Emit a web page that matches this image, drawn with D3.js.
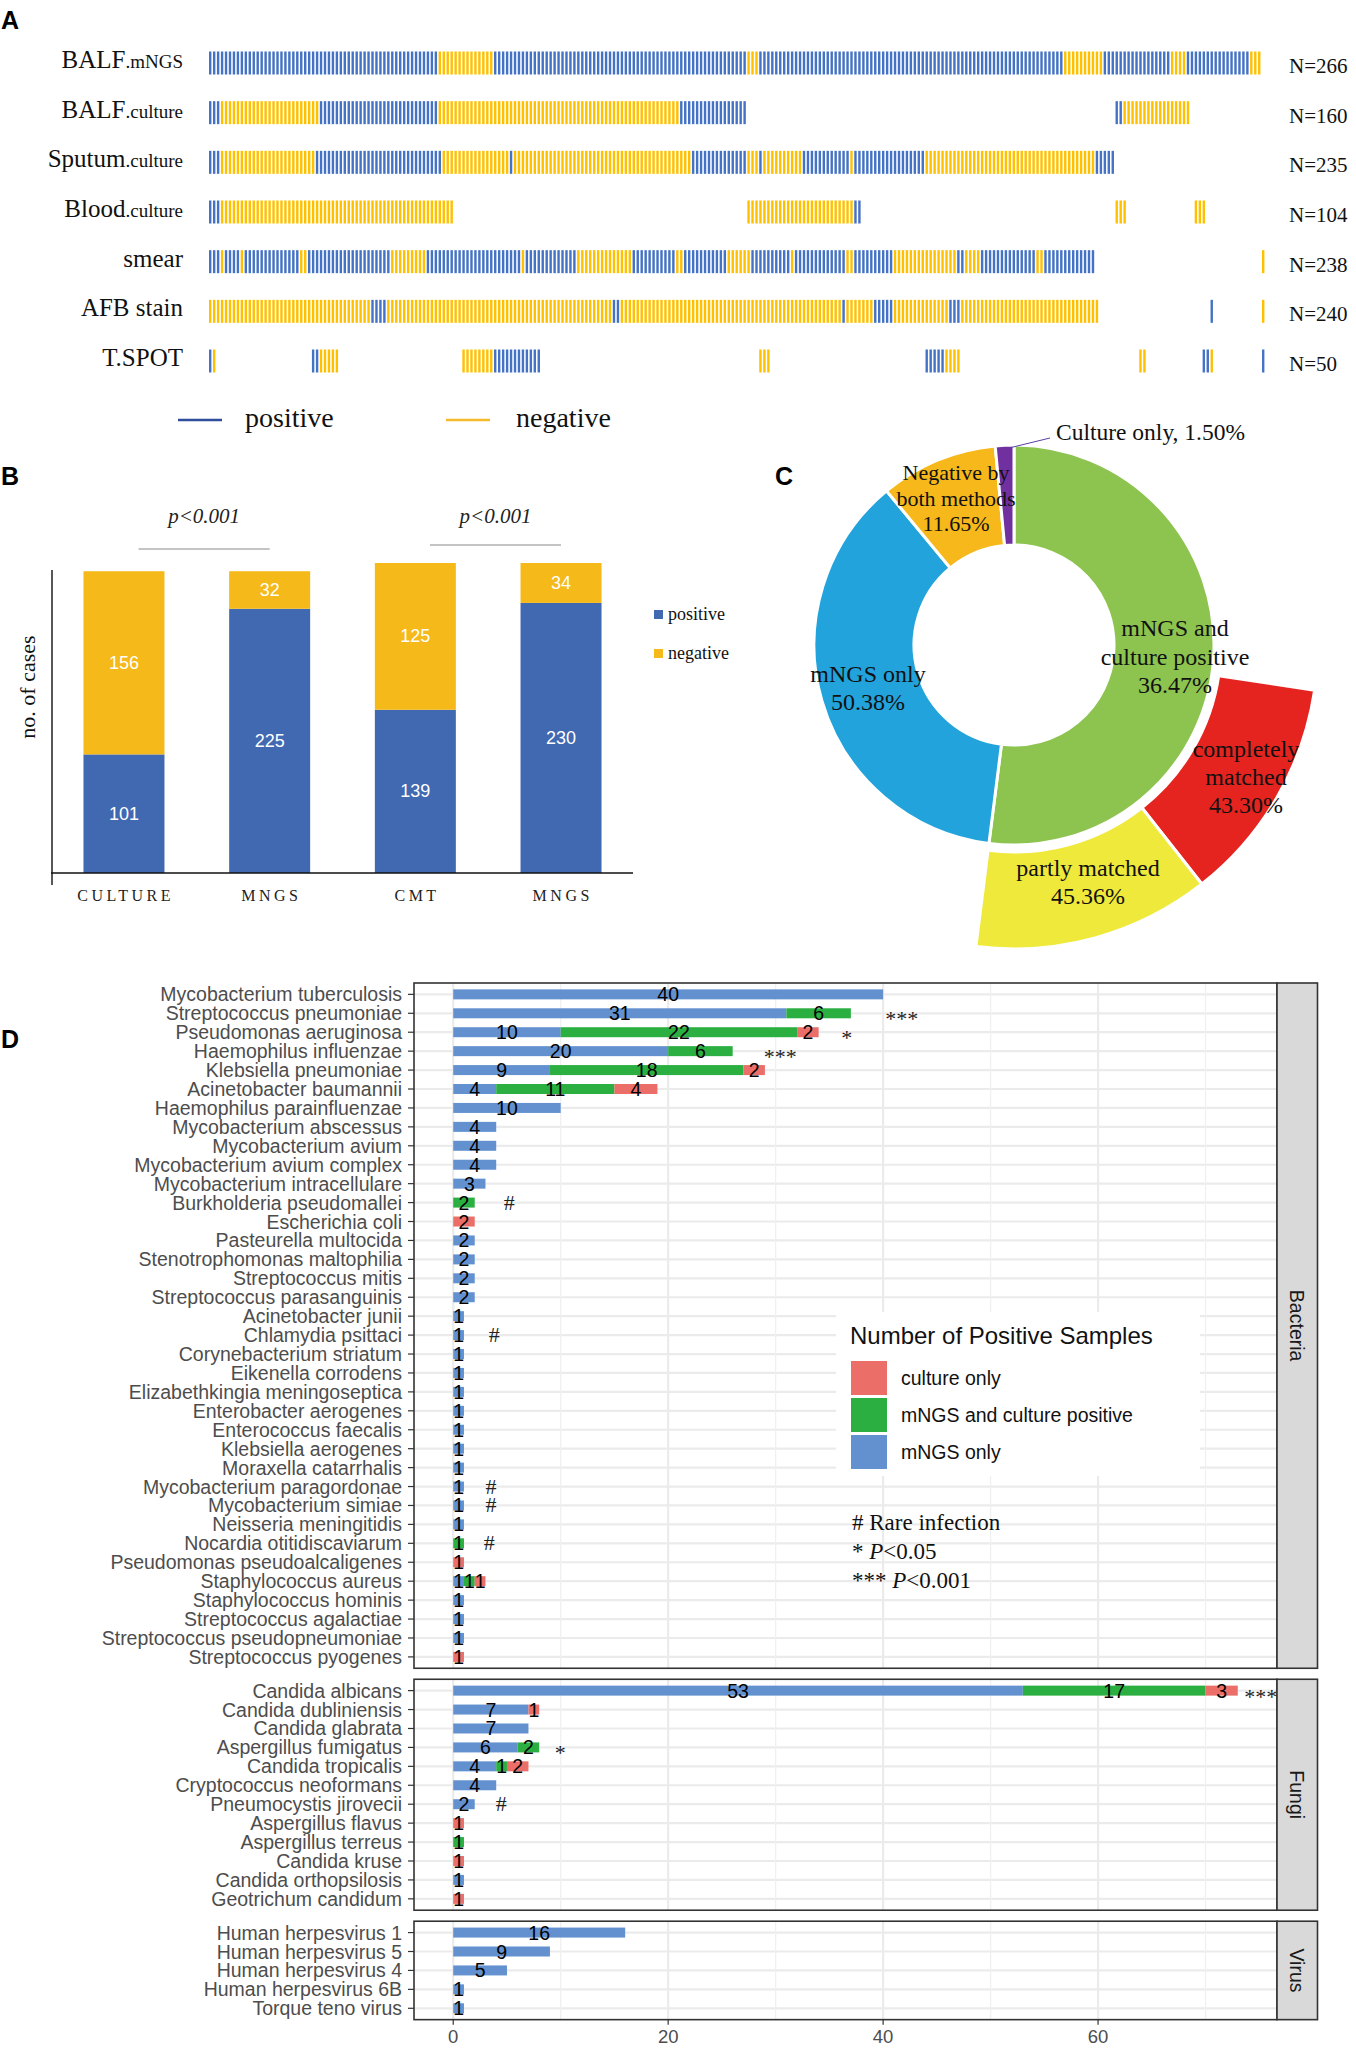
<!DOCTYPE html>
<html>
<head>
<meta charset="utf-8">
<script src="https://cdn.jsdelivr.net/npm/d3@7"></script>
<style>
body { margin: 0; background: #fff; }
svg { display: block; }
</style>
</head>
<body>
<script>
// ---------- panel A : per-sample results, stored as runs [first sample, count, result]
const stripMain = ["BALF", "BALF", "Sputum", "Blood", "smear", "AFB stain", "T.SPOT"];
const stripSub = [".mNGS", ".culture", ".culture", ".culture", "", "", ""];
const stripN = [266, 160, 235, 104, 238, 240, 50];
const balfMngsRuns = [[0,58,"p"],[58,14,"n"],[72,64,"p"],[136,3,"n"],[139,77,"p"],[216,10,"n"],[226,17,"p"],[243,4,"n"],[247,16,"p"],[263,3,"n"]];
const balfCultureRuns = [[0,3,"p"],[3,25,"n"],[28,30,"p"],[58,61,"n"],[119,17,"p"],[229,2,"p"],[231,17,"n"]];
const sputumRuns = [[0,3,"p"],[3,24,"n"],[27,32,"p"],[59,17,"n"],[76,1,"p"],[77,45,"n"],[122,14,"p"],[136,3,"n"],[139,1,"p"],[140,10,"n"],[150,12,"p"],[162,1,"n"],[163,18,"p"],[181,43,"n"],[224,5,"p"]];
const bloodRuns = [[0,3,"p"],[3,59,"n"],[136,27,"n"],[163,2,"p"],[229,3,"n"],[249,3,"n"]];
const smearRuns = [[0,3,"p"],[3,1,"n"],[4,4,"p"],[8,1,"n"],[9,14,"p"],[23,2,"n"],[25,21,"p"],[46,9,"n"],[55,24,"p"],[79,1,"n"],[80,13,"p"],[93,14,"n"],[107,11,"p"],[118,2,"n"],[120,11,"p"],[131,6,"n"],[137,10,"p"],[147,1,"n"],[148,13,"p"],[161,2,"n"],[163,10,"p"],[173,16,"n"],[189,2,"p"],[191,4,"n"],[195,14,"p"],[209,2,"n"],[211,13,"p"],[266,1,"n"]];
const afbRuns = [[0,41,"n"],[41,4,"p"],[45,57,"n"],[102,2,"p"],[104,56,"n"],[160,1,"p"],[161,7,"n"],[168,5,"p"],[173,14,"n"],[187,3,"p"],[190,35,"n"],[253,1,"p"],[266,1,"n"]];
const tspotRuns = [[0,1,"p"],[1,1,"n"],[26,2,"p"],[28,5,"n"],[64,8,"n"],[72,12,"p"],[139,3,"n"],[181,5,"p"],[186,4,"n"],[235,2,"n"],[251,2,"p"],[253,1,"n"],[266,1,"p"]];
const stripRuns = [balfMngsRuns, balfCultureRuns, sputumRuns, bloodRuns, smearRuns, afbRuns, tspotRuns];

// ---------- panel B
const bCategories = ["CULTURE", "MNGS", "CMT", "MNGS"];
const bPositive = [101, 225, 139, 230];
const bNegative = [156, 32, 125, 34];
const bPvalues = ["p<0.001", "p<0.001"];

// ---------- panel C (ring shares as drawn, outer shares of matched cases)
const ringNames = ["mNGS and culture positive", "mNGS only", "Negative by both methods", "Culture only"];
const ringShare = [52, 37, 9.5, 1.5];
const matchNames = ["completely matched", "partly matched"];
const matchShare = [43.30, 45.36];

// ---------- panel D
const bacteria = ["Mycobacterium tuberculosis","Streptococcus pneumoniae","Pseudomonas aeruginosa","Haemophilus influenzae","Klebsiella pneumoniae","Acinetobacter baumannii","Haemophilus parainfluenzae","Mycobacterium abscessus","Mycobacterium avium","Mycobacterium avium complex","Mycobacterium intracellulare","Burkholderia pseudomallei","Escherichia coli","Pasteurella multocida","Stenotrophomonas maltophilia","Streptococcus mitis","Streptococcus parasanguinis","Acinetobacter junii","Chlamydia psittaci","Corynebacterium striatum","Eikenella corrodens","Elizabethkingia meningoseptica","Enterobacter aerogenes","Enterococcus faecalis","Klebsiella aerogenes","Moraxella catarrhalis","Mycobacterium paragordonae","Mycobacterium simiae","Neisseria meningitidis","Nocardia otitidiscaviarum","Pseudomonas pseudoalcaligenes","Staphylococcus aureus","Staphylococcus hominis","Streptococcus agalactiae","Streptococcus pseudopneumoniae","Streptococcus pyogenes"];
const bacMngs    = [40,31,10,20,9,4,10,4,4,4,3,0,0,2,2,2,2,1,1,1,1,1,1,1,1,1,1,1,1,0,0,1,1,1,1,0];
const bacBoth    = [0,6,22,6,18,11,0,0,0,0,0,2,0,0,0,0,0,0,0,0,0,0,0,0,0,0,0,0,0,1,0,1,0,0,0,0];
const bacCulture = [0,0,2,0,2,4,0,0,0,0,0,0,2,0,0,0,0,0,0,0,0,0,0,0,0,0,0,0,0,0,1,1,0,0,0,1];
const fungi = ["Candida albicans","Candida dubliniensis","Candida glabrata","Aspergillus fumigatus","Candida tropicalis","Cryptococcus neoformans","Pneumocystis jirovecii","Aspergillus flavus","Aspergillus terreus","Candida kruse","Candida orthopsilosis","Geotrichum candidum"];
const fungiMngs    = [53,7,7,6,4,4,2,0,0,0,1,0];
const fungiBoth    = [17,0,0,2,1,0,0,0,1,0,0,0];
const fungiCulture = [3,1,0,0,2,0,0,1,0,1,0,1];
const virus = ["Human herpesvirus 1","Human herpesvirus 5","Human herpesvirus 4","Human herpesvirus 6B","Torque teno virus"];
const virusMngs    = [16,9,5,1,1];
const virusBoth    = [0,0,0,0,0];
const virusCulture = [0,0,0,0,0];
// markers: [organism, mark, x position in counts]
const dMarks = [["Streptococcus pneumoniae","***",40.2],["Pseudomonas aeruginosa","*",36.1],["Haemophilus influenzae","***",28.9],["Burkholderia pseudomallei","#",4.7],["Chlamydia psittaci","#",3.3],["Mycobacterium paragordonae","#",3.0],["Mycobacterium simiae","#",3.0],["Nocardia otitidiscaviarum","#",2.85],["Candida albicans","***",73.6],["Aspergillus fumigatus","*",9.45],["Pneumocystis jirovecii","#",3.95]];
const dTicks = [0, 20, 40, 60];
const dMinor = [10, 30, 50, 70];

// ---------- drawing
const SERIF = "'Liberation Serif','Times New Roman',serif";
const SANS = "'Liberation Sans',Arial,sans-serif";

const svg = d3.select("body").append("svg").attr("width", 1356).attr("height", 2048);

[["A",1,29],["B",1,485],["C",775,485],["D",1,1048]].forEach(([t,x,y]) => {
  svg.append("text").attr("x", x).attr("y", y).text(t)
    .style("font-family", SANS).style("font-weight", "bold").style("font-size", "25px");
});

// ===== A
const ax = d3.scaleLinear().domain([0, 266]).range([209, 1262]);
const ay = d3.scalePoint().domain(d3.range(stripMain.length)).range([63, 361]);
const gA = svg.append("g");
stripRuns.forEach((runs, r) => {
  const cells = runs.flatMap(([s, n, v]) => d3.range(n).map(k => ({i: s + k, v})));
  gA.append("g").selectAll("rect").data(cells).join("rect")
    .attr("x", d => ax(d.i)).attr("y", ay(r) - 11.5)
    .attr("width", 2.4).attr("height", 23)
    .attr("fill", d => d.v === "p" ? "#4472c4" : "#ffc000");
  const t = gA.append("text").attr("x", 183).attr("y", ay(r) + 5)
    .attr("text-anchor", "end").style("font-family", SERIF).style("fill", "#111");
  t.append("tspan").style("font-size", "25px").text(stripMain[r]);
  if (stripSub[r]) t.append("tspan").style("font-size", "19px").text(stripSub[r]);
  gA.append("text").attr("x", 1289).attr("y", ay(r) + 10)
    .style("font-family", SERIF).style("font-size", "21px").style("fill", "#111")
    .text("N=" + stripN[r]);
});
[["positive","#2f4d9c",178,245],["negative","#f6b92b",446,516]].forEach(([t,c,x,tx]) => {
  gA.append("line").attr("x1", x).attr("x2", x + 44).attr("y1", 420).attr("y2", 420)
    .attr("stroke", c).attr("stroke-width", 2.5);
  gA.append("text").attr("x", tx).attr("y", 427).text(t)
    .style("font-family", SERIF).style("font-size", "28px").style("fill", "#111");
});

// ===== B
const bx = d3.scaleBand().domain(d3.range(bCategories.length)).range([52, 633])
  .paddingInner(0.444).paddingOuter(0.216);
const bTot = bPositive.map((v, i) => v + bNegative[i]);
const by = d3.scaleLinear().domain([0, d3.max(bTot)]).range([873, 563]);
const gB = svg.append("g");
gB.selectAll(".pos").data(bPositive).join("rect")
  .attr("x", (d, i) => bx(i)).attr("width", bx.bandwidth())
  .attr("y", d => by(d)).attr("height", d => by(0) - by(d)).attr("fill", "#4169b2");
gB.selectAll(".neg").data(bNegative).join("rect")
  .attr("x", (d, i) => bx(i)).attr("width", bx.bandwidth())
  .attr("y", (d, i) => by(bTot[i])).attr("height", (d, i) => by(bPositive[i]) - by(bTot[i]))
  .attr("fill", "#f5b919");
bPositive.forEach((v, i) => {
  [[v, (by(0) + by(v)) / 2], [bNegative[i], (by(v) + by(bTot[i])) / 2]].forEach(([val, y]) => {
    gB.append("text").attr("x", bx(i) + bx.bandwidth() / 2).attr("y", y + 6)
      .attr("text-anchor", "middle").style("font-family", SANS).style("font-size", "18px")
      .style("fill", "#fff").text(val);
  });
  gB.append("text").attr("x", bx(i) + bx.bandwidth() / 2 + 1.7).attr("y", 901)
    .attr("text-anchor", "middle").style("font-family", SERIF).style("font-size", "16px")
    .style("letter-spacing", "3.5px").style("fill", "#222").text(bCategories[i]);
});
gB.append("line").attr("x1", 52).attr("x2", 52).attr("y1", 570).attr("y2", 885).attr("stroke", "#111").attr("stroke-width", 1.4);
gB.append("line").attr("x1", 51).attr("x2", 633).attr("y1", 873).attr("y2", 873).attr("stroke", "#111").attr("stroke-width", 1.4);
gB.append("text").attr("transform", "translate(35,687) rotate(-90)").attr("text-anchor", "middle")
  .style("font-family", SERIF).style("font-size", "22px").style("fill", "#111").text("no. of cases");
[[0, 1, 549], [2, 3, 545]].forEach(([a, b, y], k) => {
  const x1 = bx(a) + bx.bandwidth() * 0.68, x2 = bx(b) + bx.bandwidth() * 0.5;
  gB.append("line").attr("x1", x1).attr("x2", x2).attr("y1", y).attr("y2", y).attr("stroke", "#888").attr("stroke-width", 1);
  gB.append("text").attr("x", (x1 + x2) / 2).attr("y", 523).attr("text-anchor", "middle")
    .style("font-family", SERIF).style("font-style", "italic").style("font-size", "21px")
    .style("fill", "#222").text(bPvalues[k]);
});
[["positive", "#4169b2", 610], ["negative", "#f5b919", 649]].forEach(([t, c, y]) => {
  gB.append("rect").attr("x", 654).attr("y", y).attr("width", 9).attr("height", 9).attr("fill", c);
  gB.append("text").attr("x", 668).attr("y", y + 10).text(t)
    .style("font-family", SERIF).style("font-size", "18px").style("fill", "#111");
});

// ===== C
const gC = svg.append("g").attr("transform", "translate(1014,645)");
const ringColors = ["#8dc450", "#22a3dc", "#f6b81a", "#7030a0"];
const ringArcs = d3.pie().sort(null)(ringShare);
const ringArc = d3.arc().innerRadius(100).outerRadius(200);
gC.selectAll(".ring").data(ringArcs).join("path")
  .attr("d", ringArc).attr("fill", (d, i) => ringColors[i])
  .attr("stroke", "#fff").attr("stroke-width", 3);
const greenEnd = ringArcs[0].endAngle;
const matchSpan = d3.sum(matchShare) * Math.PI / 180;
const matchArcs = d3.pie().sort(null).startAngle(greenEnd - matchSpan).endAngle(greenEnd)(matchShare);
const matchArc = d3.arc().innerRadius(207).outerRadius(304);
gC.selectAll(".match").data(matchArcs).join("path")
  .attr("d", matchArc).attr("fill", (d, i) => ["#e52420", "#efe93c"][i])
  .attr("stroke", "#fff").attr("stroke-width", 3);
gC.append("line").attr("x1", -5).attr("y1", -197).attr("x2", 36).attr("y2", -207)
  .attr("stroke", "#5b3fa3").attr("stroke-width", 1);
const cText = (lines, x, y, size, dy) => {
  lines.forEach((l, k) => svg.append("text").attr("x", x).attr("y", y + k * dy)
    .attr("text-anchor", "middle").style("font-family", SERIF).style("font-size", size + "px")
    .style("fill", "#111").text(l));
};
svg.append("text").attr("x", 1056).attr("y", 440).text("Culture only, " + ringShare[3].toFixed(2) + "%")
  .style("font-family", SERIF).style("font-size", "23.5px").style("fill", "#111");
cText(["Negative by", "both methods", "11.65%"], 956, 480, 22, 25.5);
cText(["mNGS only", "50.38%"], 868, 682, 24, 28);
cText(["mNGS and", "culture positive", "36.47%"], 1175, 636, 24, 28.5);
cText(["completely", "matched", matchShare[0].toFixed(2) + "%"], 1246, 757, 24, 28);
cText(["partly matched", matchShare[1].toFixed(2) + "%"], 1088, 876, 24, 27.5);

// ===== D
const dX = d3.scaleLinear().domain([-3.65, 76.65]).range([414, 1277]);
const step = 18.93;
const facets = [
  {name: "Bacteria", rows: bacteria, m: bacMngs, b: bacBoth, c: bacCulture},
  {name: "Fungi", rows: fungi, m: fungiMngs, b: fungiBoth, c: fungiCulture},
  {name: "Virus", rows: virus, m: virusMngs, b: virusBoth, c: virusCulture}
];
const segColors = {m: "#6391d0", b: "#2aaf40", c: "#eb6e69"};
const gD = svg.append("g");
let panelTop = 983;
facets.forEach(f => {
  const h = (f.rows.length - 1 + 1.2) * step;
  const bottom = panelTop + h;
  const fy = d3.scalePoint().domain(f.rows).range([panelTop, bottom]).padding(0.6);
  gD.append("rect").attr("x", 414).attr("y", panelTop).attr("width", 863).attr("height", h).attr("fill", "#fff");
  f.rows.forEach(r => gD.append("line").attr("x1", 414).attr("x2", 1277).attr("y1", fy(r)).attr("y2", fy(r))
    .attr("stroke", "#ebebeb").attr("stroke-width", 2.2));
  dMinor.forEach(v => gD.append("line").attr("x1", dX(v)).attr("x2", dX(v)).attr("y1", panelTop).attr("y2", bottom)
    .attr("stroke", "#f0f0f0").attr("stroke-width", 1.3));
  dTicks.forEach(v => gD.append("line").attr("x1", dX(v)).attr("x2", dX(v)).attr("y1", panelTop).attr("y2", bottom)
    .attr("stroke", "#ebebeb").attr("stroke-width", 2.2));
  const table = f.rows.map((r, i) => ({name: r, m: f.m[i], b: f.b[i], c: f.c[i]}));
  const series = d3.stack().keys(["m", "b", "c"])(table);
  series.forEach(s => {
    s.forEach(d => {
      const v = d[1] - d[0];
      if (v <= 0) return;
      gD.append("rect").attr("x", dX(d[0])).attr("width", dX(d[1]) - dX(d[0]))
        .attr("y", fy(d.data.name) - 5).attr("height", 10).attr("fill", segColors[s.key]);
    });
  });
  series.forEach(s => {
    s.forEach(d => {
      const v = d[1] - d[0];
      if (v <= 0) return;
      gD.append("text").attr("x", dX((d[0] + d[1]) / 2)).attr("y", fy(d.data.name) + 7)
        .attr("text-anchor", "middle").style("font-family", SANS).style("font-size", "19.5px")
        .style("fill", "#000").text(v);
    });
  });
  f.rows.forEach(r => {
    gD.append("line").attr("x1", 408).attr("x2", 414).attr("y1", fy(r)).attr("y2", fy(r)).attr("stroke", "#333").attr("stroke-width", 1.2);
    gD.append("text").attr("x", 402).attr("y", fy(r) + 7).attr("text-anchor", "end")
      .style("font-family", SANS).style("font-size", "19.5px").style("fill", "#4d4d4d").text(r);
  });
  dMarks.filter(mk => f.rows.includes(mk[0])).forEach(([r, t, x]) => {
    gD.append("text").attr("x", dX(x)).attr("y", fy(r) + (t === "#" ? 7 : 13))
      .style("font-family", SERIF).style("font-size", "22px").style("fill", "#222").text(t);
  });
  f.top = panelTop; f.bottom = bottom;
  panelTop = bottom + 11;
});
// legend box
gD.append("rect").attr("x", 836).attr("y", 1312).attr("width", 364).attr("height", 164).attr("fill", "#fff");
gD.append("text").attr("x", 850).attr("y", 1344).text("Number of Positive Samples")
  .style("font-family", SANS).style("font-size", "24px").style("fill", "#111");
[["culture only", "c"], ["mNGS and culture positive", "b"], ["mNGS only", "m"]].forEach(([t, k], i) => {
  const y = 1361 + i * 37;
  gD.append("rect").attr("x", 851).attr("y", y).attr("width", 36).attr("height", 34).attr("fill", segColors[k]);
  gD.append("text").attr("x", 901).attr("y", y + 24).text(t)
    .style("font-family", SANS).style("font-size", "19.5px").style("fill", "#111");
});
const note = (y, parts) => {
  const t = gD.append("text").attr("x", 852).attr("y", y).style("font-family", SERIF)
    .style("font-size", "23px").style("fill", "#111");
  parts.forEach(([s, it]) => t.append("tspan").style("font-style", it ? "italic" : "normal").text(s));
};
note(1530, [["# Rare infection", false]]);
note(1559, [["* ", false], ["P", true], ["<0.05", false]]);
note(1588, [["*** ", false], ["P", true], ["<0.001", false]]);
// borders and strips
facets.forEach(f => {
  const h = f.bottom - f.top;
  gD.append("rect").attr("x", 414).attr("y", f.top).attr("width", 863).attr("height", h)
    .attr("fill", "none").attr("stroke", "#333").attr("stroke-width", 1.6);
  gD.append("rect").attr("x", 1277).attr("y", f.top).attr("width", 40.5).attr("height", h)
    .attr("fill", "#d9d9d9").attr("stroke", "#333").attr("stroke-width", 1.6);
  gD.append("text").attr("transform", `translate(1297,${(f.top + f.bottom) / 2}) rotate(90)`)
    .attr("text-anchor", "middle").attr("dominant-baseline", "central")
    .style("font-family", SANS).style("font-size", "19.5px").style("fill", "#1a1a1a").text(f.name);
});
const lastBottom = facets[facets.length - 1].bottom;
dTicks.forEach(v => {
  gD.append("line").attr("x1", dX(v)).attr("x2", dX(v)).attr("y1", lastBottom).attr("y2", lastBottom + 5)
    .attr("stroke", "#333").attr("stroke-width", 1.2);
  gD.append("text").attr("x", dX(v)).attr("y", lastBottom + 23).attr("text-anchor", "middle")
    .style("font-family", SANS).style("font-size", "18.5px").style("fill", "#4d4d4d").text(v);
});
</script>
</body>
</html>
